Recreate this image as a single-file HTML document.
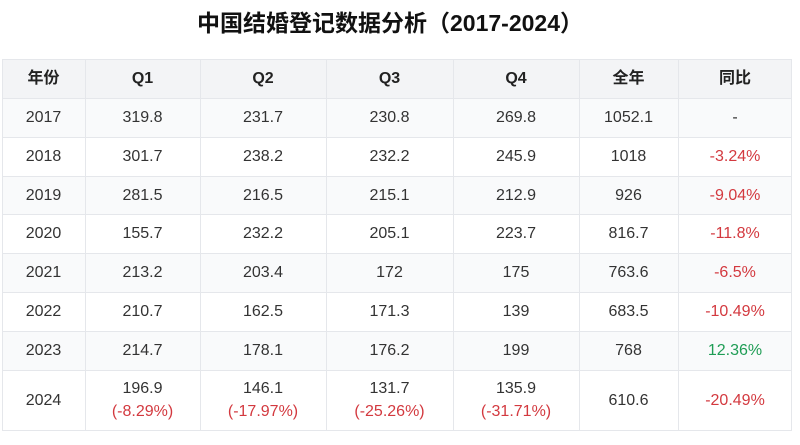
<!DOCTYPE html>
<html>
<head>
<meta charset="utf-8">
<style>
  html,body{margin:0;padding:0;background:#fff;}
  body{width:800px;height:445px;position:relative;overflow:hidden;
       font-family:"Liberation Sans","Noto Sans CJK SC",sans-serif;color:#333;}
  .title{position:absolute;left:0;top:9px;width:780px;text-align:center;
         font-size:23px;font-weight:bold;color:#111;line-height:28px;
         font-family:"Liberation Sans","Noto Sans CJK SC",sans-serif;}
  .bg{position:absolute;left:2px;width:790px;}
  .hl{position:absolute;left:2px;width:790px;height:1px;background:#e5e7eb;}
  .vl{position:absolute;top:59px;height:371px;width:1px;background:#e5e7eb;}
  .c{position:absolute;text-align:center;font-size:16px;display:flex;align-items:center;justify-content:center;flex-direction:column;line-height:23px;}
  .h{font-weight:bold;color:#222;}
  .r{color:#d3393f;}
  .g{color:#1f9d55;}
</style>
</head>
<body>
<div class="title">中国结婚登记数据分析（2017-2024）</div>

<!-- backgrounds -->
<div class="bg" style="top:59px;height:39px;background:#f3f4f6;"></div>
<div class="bg" style="top:98px;height:39px;background:#f9fafb;"></div>
<div class="bg" style="top:176px;height:38px;background:#f9fafb;"></div>
<div class="bg" style="top:253px;height:39px;background:#f9fafb;"></div>
<div class="bg" style="top:331px;height:39px;background:#f9fafb;"></div>

<!-- horizontal lines -->
<div class="hl" style="top:59px"></div>
<div class="hl" style="top:98px"></div>
<div class="hl" style="top:137px"></div>
<div class="hl" style="top:176px"></div>
<div class="hl" style="top:214px"></div>
<div class="hl" style="top:253px"></div>
<div class="hl" style="top:292px"></div>
<div class="hl" style="top:331px"></div>
<div class="hl" style="top:370px"></div>
<div class="hl" style="top:430px"></div>

<!-- vertical lines -->
<div class="vl" style="left:2px"></div>
<div class="vl" style="left:85px"></div>
<div class="vl" style="left:200px"></div>
<div class="vl" style="left:326px"></div>
<div class="vl" style="left:453px"></div>
<div class="vl" style="left:579px"></div>
<div class="vl" style="left:678px"></div>
<div class="vl" style="left:791px"></div>

<!-- header -->
<div class="c h" style="left:2px;width:83px;top:59px;height:39px;">年份</div>
<div class="c h" style="left:85px;width:115px;top:59px;height:39px;">Q1</div>
<div class="c h" style="left:200px;width:126px;top:59px;height:39px;">Q2</div>
<div class="c h" style="left:326px;width:127px;top:59px;height:39px;">Q3</div>
<div class="c h" style="left:453px;width:126px;top:59px;height:39px;">Q4</div>
<div class="c h" style="left:579px;width:99px;top:59px;height:39px;">全年</div>
<div class="c h" style="left:678px;width:114px;top:59px;height:39px;">同比</div>

<!-- 2017 -->
<div class="c" style="left:2px;width:83px;top:98px;height:39px;">2017</div>
<div class="c" style="left:85px;width:115px;top:98px;height:39px;">319.8</div>
<div class="c" style="left:200px;width:126px;top:98px;height:39px;">231.7</div>
<div class="c" style="left:326px;width:127px;top:98px;height:39px;">230.8</div>
<div class="c" style="left:453px;width:126px;top:98px;height:39px;">269.8</div>
<div class="c" style="left:579px;width:99px;top:98px;height:39px;">1052.1</div>
<div class="c" style="left:678px;width:114px;top:98px;height:39px;">-</div>

<!-- 2018 -->
<div class="c" style="left:2px;width:83px;top:137px;height:39px;">2018</div>
<div class="c" style="left:85px;width:115px;top:137px;height:39px;">301.7</div>
<div class="c" style="left:200px;width:126px;top:137px;height:39px;">238.2</div>
<div class="c" style="left:326px;width:127px;top:137px;height:39px;">232.2</div>
<div class="c" style="left:453px;width:126px;top:137px;height:39px;">245.9</div>
<div class="c" style="left:579px;width:99px;top:137px;height:39px;">1018</div>
<div class="c r" style="left:678px;width:114px;top:137px;height:39px;">-3.24%</div>

<!-- 2019 -->
<div class="c" style="left:2px;width:83px;top:176px;height:38px;">2019</div>
<div class="c" style="left:85px;width:115px;top:176px;height:38px;">281.5</div>
<div class="c" style="left:200px;width:126px;top:176px;height:38px;">216.5</div>
<div class="c" style="left:326px;width:127px;top:176px;height:38px;">215.1</div>
<div class="c" style="left:453px;width:126px;top:176px;height:38px;">212.9</div>
<div class="c" style="left:579px;width:99px;top:176px;height:38px;">926</div>
<div class="c r" style="left:678px;width:114px;top:176px;height:38px;">-9.04%</div>

<!-- 2020 -->
<div class="c" style="left:2px;width:83px;top:214px;height:39px;">2020</div>
<div class="c" style="left:85px;width:115px;top:214px;height:39px;">155.7</div>
<div class="c" style="left:200px;width:126px;top:214px;height:39px;">232.2</div>
<div class="c" style="left:326px;width:127px;top:214px;height:39px;">205.1</div>
<div class="c" style="left:453px;width:126px;top:214px;height:39px;">223.7</div>
<div class="c" style="left:579px;width:99px;top:214px;height:39px;">816.7</div>
<div class="c r" style="left:678px;width:114px;top:214px;height:39px;">-11.8%</div>

<!-- 2021 -->
<div class="c" style="left:2px;width:83px;top:253px;height:39px;">2021</div>
<div class="c" style="left:85px;width:115px;top:253px;height:39px;">213.2</div>
<div class="c" style="left:200px;width:126px;top:253px;height:39px;">203.4</div>
<div class="c" style="left:326px;width:127px;top:253px;height:39px;">172</div>
<div class="c" style="left:453px;width:126px;top:253px;height:39px;">175</div>
<div class="c" style="left:579px;width:99px;top:253px;height:39px;">763.6</div>
<div class="c r" style="left:678px;width:114px;top:253px;height:39px;">-6.5%</div>

<!-- 2022 -->
<div class="c" style="left:2px;width:83px;top:292px;height:39px;">2022</div>
<div class="c" style="left:85px;width:115px;top:292px;height:39px;">210.7</div>
<div class="c" style="left:200px;width:126px;top:292px;height:39px;">162.5</div>
<div class="c" style="left:326px;width:127px;top:292px;height:39px;">171.3</div>
<div class="c" style="left:453px;width:126px;top:292px;height:39px;">139</div>
<div class="c" style="left:579px;width:99px;top:292px;height:39px;">683.5</div>
<div class="c r" style="left:678px;width:114px;top:292px;height:39px;">-10.49%</div>

<!-- 2023 -->
<div class="c" style="left:2px;width:83px;top:331px;height:39px;">2023</div>
<div class="c" style="left:85px;width:115px;top:331px;height:39px;">214.7</div>
<div class="c" style="left:200px;width:126px;top:331px;height:39px;">178.1</div>
<div class="c" style="left:326px;width:127px;top:331px;height:39px;">176.2</div>
<div class="c" style="left:453px;width:126px;top:331px;height:39px;">199</div>
<div class="c" style="left:579px;width:99px;top:331px;height:39px;">768</div>
<div class="c g" style="left:678px;width:114px;top:331px;height:39px;">12.36%</div>

<!-- 2024 -->
<div class="c" style="left:2px;width:83px;top:370px;height:60px;">2024</div>
<div class="c" style="left:85px;width:115px;top:370px;height:60px;"><div>196.9</div><div class="r">(-8.29%)</div></div>
<div class="c" style="left:200px;width:126px;top:370px;height:60px;"><div>146.1</div><div class="r">(-17.97%)</div></div>
<div class="c" style="left:326px;width:127px;top:370px;height:60px;"><div>131.7</div><div class="r">(-25.26%)</div></div>
<div class="c" style="left:453px;width:126px;top:370px;height:60px;"><div>135.9</div><div class="r">(-31.71%)</div></div>
<div class="c" style="left:579px;width:99px;top:370px;height:60px;">610.6</div>
<div class="c r" style="left:678px;width:114px;top:370px;height:60px;">-20.49%</div>
</body>
</html>
